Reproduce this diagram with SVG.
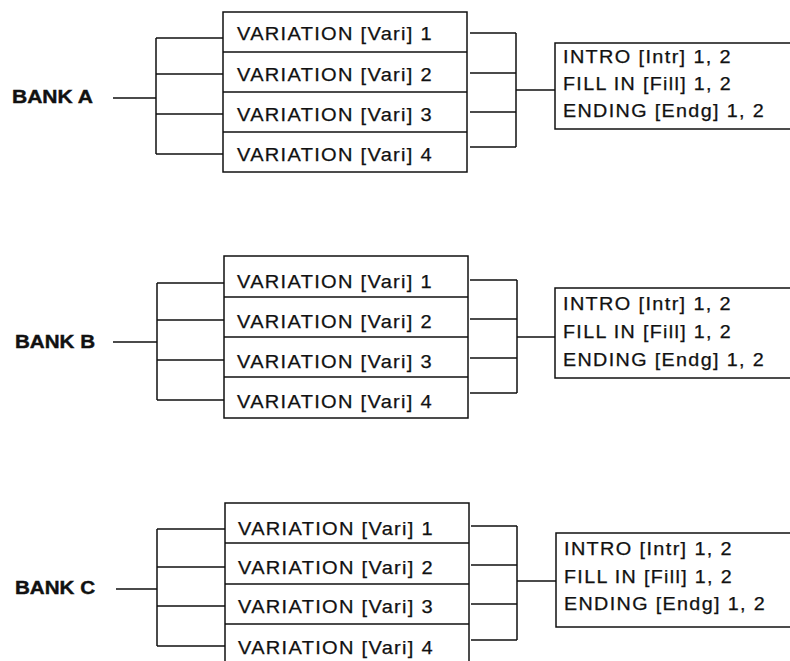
<svg xmlns="http://www.w3.org/2000/svg" width="790" height="661" viewBox="0 0 790 661">
<style>
.ln{stroke:#111;stroke-width:1.5;fill:none}
.bx{stroke:#111;stroke-width:1.5;fill:#fff}
.v{font-family:"Liberation Sans",Arial,sans-serif;font-size:18.5px;letter-spacing:1.2px;fill:#111;stroke:#111;stroke-width:0.25}
.r{font-family:"Liberation Sans",Arial,sans-serif;font-size:17.5px;letter-spacing:1.2px;fill:#111;stroke:#111;stroke-width:0.25}
.b{font-family:"Liberation Sans",Arial,sans-serif;font-size:17.5px;font-weight:bold;fill:#111;stroke:#111;stroke-width:0.4}
</style>
<rect width="790" height="661" fill="#fff"/>
<g id="connectors">
<path class="ln" d="M113 98H156M156 38V154M156 38H223M156 74H223M156 114H223M156 154H223"/>
<path class="ln" d="M470 33H516M470 73H516M470 112H516M470 147H516M516 33V147M516 90H555"/>
<path class="ln" d="M113 342H157M157 283V400M157 283H224M157 320H224M157 360H224M157 400H224"/>
<path class="ln" d="M470 280H517M470 319H517M470 358H517M470 393H517M517 280V393M517 337H555"/>
<path class="ln" d="M116 589H157M157 529V646M157 529H225M157 567H225M157 606H225M157 646H225"/>
<path class="ln" d="M471 526H517M471 565H517M471 604H517M471 640H517M517 526V640M517 581H556"/>
</g>
<g id="bankA">
<text class="b" x="12" y="103" textLength="81" lengthAdjust="spacingAndGlyphs">BANK A</text>
</g>
<g id="varsA">
<rect class="bx" x="223" y="12" width="244" height="160"/>
<path class="ln" d="M223 52H467M223 92H467M223 132H467"/>
<text class="v" x="237" y="40" textLength="196" lengthAdjust="spacingAndGlyphs">VARIATION [Vari] 1</text>
<text class="v" x="237" y="81" textLength="196" lengthAdjust="spacingAndGlyphs">VARIATION [Vari] 2</text>
<text class="v" x="237" y="121" textLength="196" lengthAdjust="spacingAndGlyphs">VARIATION [Vari] 3</text>
<text class="v" x="237" y="161" textLength="196" lengthAdjust="spacingAndGlyphs">VARIATION [Vari] 4</text>
</g>
<g id="patA">
<rect class="bx" x="555" y="43" width="250" height="86"/>
<text class="r" x="563" y="63" textLength="169" lengthAdjust="spacingAndGlyphs">INTRO [Intr] 1, 2</text>
<text class="r" x="563" y="90" textLength="169" lengthAdjust="spacingAndGlyphs">FILL IN [Fill] 1, 2</text>
<text class="r" x="563" y="117" textLength="202" lengthAdjust="spacingAndGlyphs">ENDING [Endg] 1, 2</text>
</g>
<g id="bankB">
<text class="b" x="15" y="348" textLength="80" lengthAdjust="spacingAndGlyphs">BANK B</text>
</g>
<g id="varsB">
<rect class="bx" x="224" y="256" width="244" height="162"/>
<path class="ln" d="M224 297H468M224 337H468M224 377H468"/>
<text class="v" x="237" y="288" textLength="196" lengthAdjust="spacingAndGlyphs">VARIATION [Vari] 1</text>
<text class="v" x="237" y="328" textLength="196" lengthAdjust="spacingAndGlyphs">VARIATION [Vari] 2</text>
<text class="v" x="237" y="368" textLength="196" lengthAdjust="spacingAndGlyphs">VARIATION [Vari] 3</text>
<text class="v" x="237" y="408" textLength="196" lengthAdjust="spacingAndGlyphs">VARIATION [Vari] 4</text>
</g>
<g id="patB">
<rect class="bx" x="555" y="288" width="250" height="90"/>
<text class="r" x="563" y="310" textLength="169" lengthAdjust="spacingAndGlyphs">INTRO [Intr] 1, 2</text>
<text class="r" x="563" y="338" textLength="169" lengthAdjust="spacingAndGlyphs">FILL IN [Fill] 1, 2</text>
<text class="r" x="563" y="366" textLength="202" lengthAdjust="spacingAndGlyphs">ENDING [Endg] 1, 2</text>
</g>
<g id="bankC">
<text class="b" x="15" y="594" textLength="80" lengthAdjust="spacingAndGlyphs">BANK C</text>
</g>
<g id="varsC">
<rect class="bx" x="225" y="503" width="244" height="170"/>
<path class="ln" d="M225 543H469M225 584H469M225 624H469"/>
<text class="v" x="238" y="535" textLength="196" lengthAdjust="spacingAndGlyphs">VARIATION [Vari] 1</text>
<text class="v" x="238" y="574" textLength="196" lengthAdjust="spacingAndGlyphs">VARIATION [Vari] 2</text>
<text class="v" x="238" y="613" textLength="196" lengthAdjust="spacingAndGlyphs">VARIATION [Vari] 3</text>
<text class="v" x="238" y="654" textLength="196" lengthAdjust="spacingAndGlyphs">VARIATION [Vari] 4</text>
</g>
<g id="patC">
<rect class="bx" x="556" y="533" width="250" height="94"/>
<text class="r" x="564" y="555" textLength="169" lengthAdjust="spacingAndGlyphs">INTRO [Intr] 1, 2</text>
<text class="r" x="564" y="583" textLength="169" lengthAdjust="spacingAndGlyphs">FILL IN [Fill] 1, 2</text>
<text class="r" x="564" y="610" textLength="202" lengthAdjust="spacingAndGlyphs">ENDING [Endg] 1, 2</text>
</g>
</svg>
